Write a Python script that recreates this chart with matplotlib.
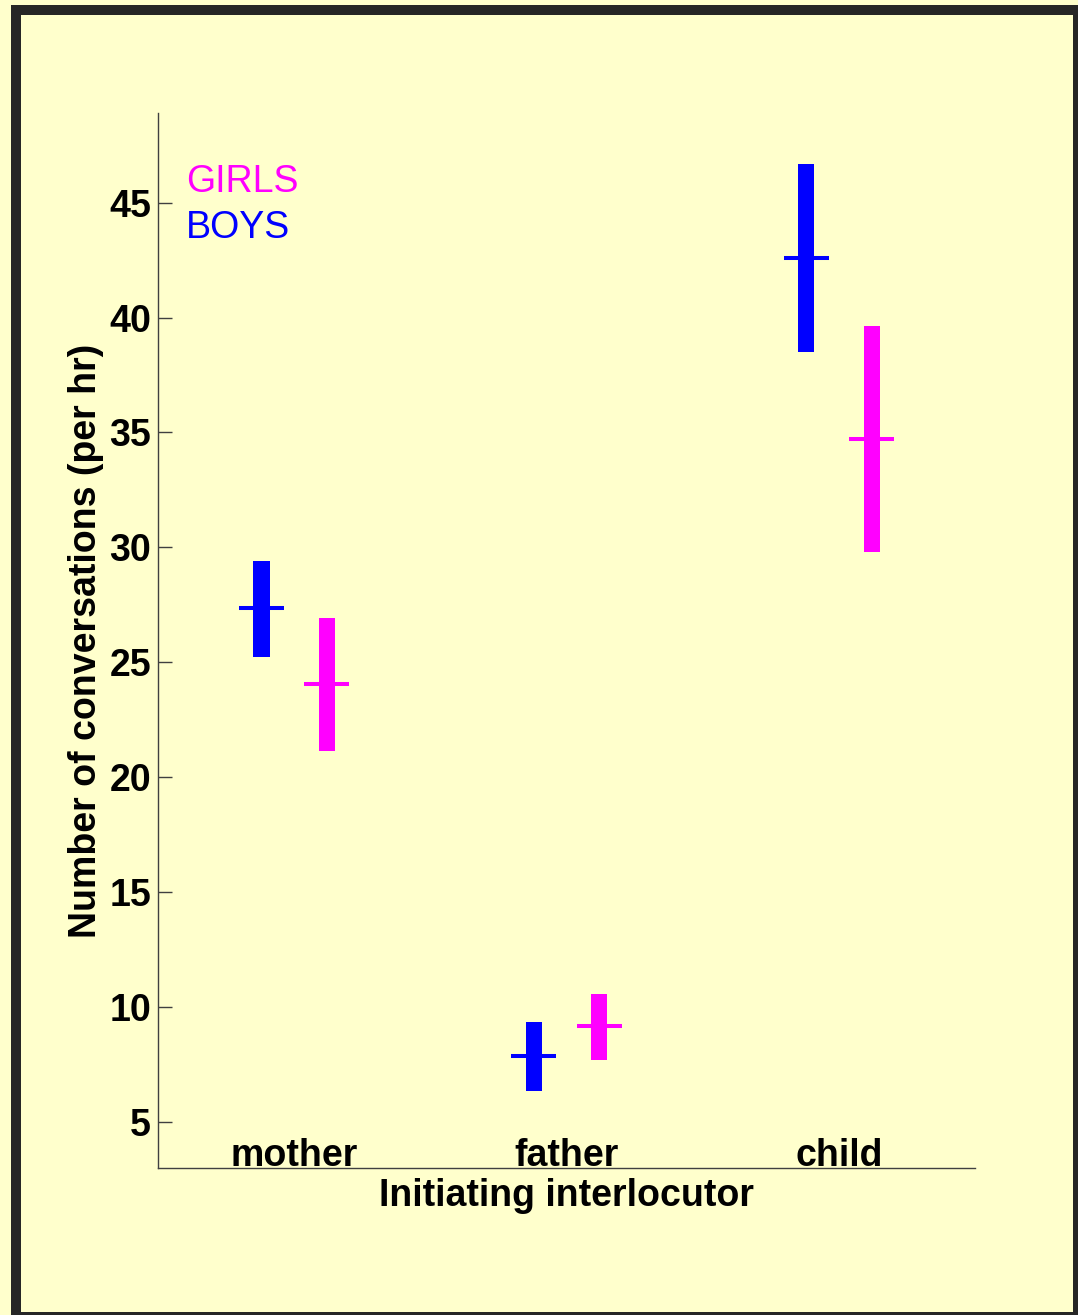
import numpy as np
import matplotlib
matplotlib.use("Agg")
import matplotlib.pyplot as plt
from matplotlib.patches import Rectangle

plt.rcParams['font.family'] = ['Liberation Sans', 'DejaVu Sans']

# data
categories = ["mother", "father", "child"]
boys_low = [25.25, 6.35, 38.48]
boys_high = [29.40, 9.37, 46.67]
boys_mean = [27.35, 7.89, 42.58]
girls_low = [21.12, 7.71, 29.82]
girls_high = [26.91, 10.57, 39.61]
girls_mean = [24.06, 9.18, 34.70]

BLUE = '#0000ff'
MAGENTA = '#ff00ff'
BG = '#ffffcc'
FRAME = '#262626'

W, H = 1078, 1315
fig = plt.figure(figsize=(W / 100, H / 100), dpi=100, facecolor=BG)
ax = fig.add_axes([0.1466, 0.1118, 0.9045 - 0.1466, 0.9141 - 0.1118])
ax.set_facecolor(BG)

# dark frame round the figure (pixel boxes: x0, y0 from top, x1, y1)
for x0, y0, x1, y1 in [(11, 5, 21, H), (11, 5, W, 15), (1073, 5, W, H), (11, 1312, W, H)]:
    fig.patches.append(Rectangle((x0 / W, 1 - y1 / H), (x1 - x0) / W, (y1 - y0) / H,
                                 transform=fig.transFigure, facecolor=FRAME,
                                 edgecolor='none', zorder=0))

x = np.arange(1, len(categories) + 1)
off = 0.12
bw = 0.059
mw = 0.083

bl, bh = np.array(boys_low), np.array(boys_high)
gl, gh = np.array(girls_low), np.array(girls_high)

ax.bar(x - off, bh - bl, bottom=bl, width=bw, color=BLUE, linewidth=0)
ax.bar(x + off, gh - gl, bottom=gl, width=bw, color=MAGENTA, linewidth=0)
ax.hlines(boys_mean, x - off - mw, x - off + mw, color=BLUE, linewidth=2.9)
ax.hlines(girls_mean, x + off - mw, x + off + mw, color=MAGENTA, linewidth=2.9)

ax.set_xlim(0.5, 3.5)
ax.set_ylim(3, 48.9)
ax.set_yticks(np.arange(5, 46, 5))
ax.set_xticks([])
ax.tick_params(axis='y', direction='in', length=10, width=1, color='#404040',
               labelsize=27, pad=5)
for lab in ax.get_yticklabels():
    lab.set_fontweight('bold')

for sp in ['top', 'right']:
    ax.spines[sp].set_visible(False)
for sp in ['left', 'bottom']:
    ax.spines[sp].set_color('#404040')
    ax.spines[sp].set_linewidth(1)

for xi, name in zip(x, categories):
    ax.text(xi, 3.09, name, ha='center', va='baseline', fontsize=27, fontweight='bold')

ax.text(0.604, 45.45, "GIRLS", color=MAGENTA, fontsize=27, va='baseline', ha='left')
ax.text(0.604, 43.45, "BOYS", color=BLUE, fontsize=27, va='baseline', ha='left')

ax.set_xlabel("Initiating interlocutor", fontsize=27, fontweight='bold', labelpad=7.5)
ax.set_ylabel("Number of conversations (per hr)", fontsize=27, fontweight='bold', labelpad=3.5)

fig.savefig("out.png", dpi=100, facecolor=BG)
